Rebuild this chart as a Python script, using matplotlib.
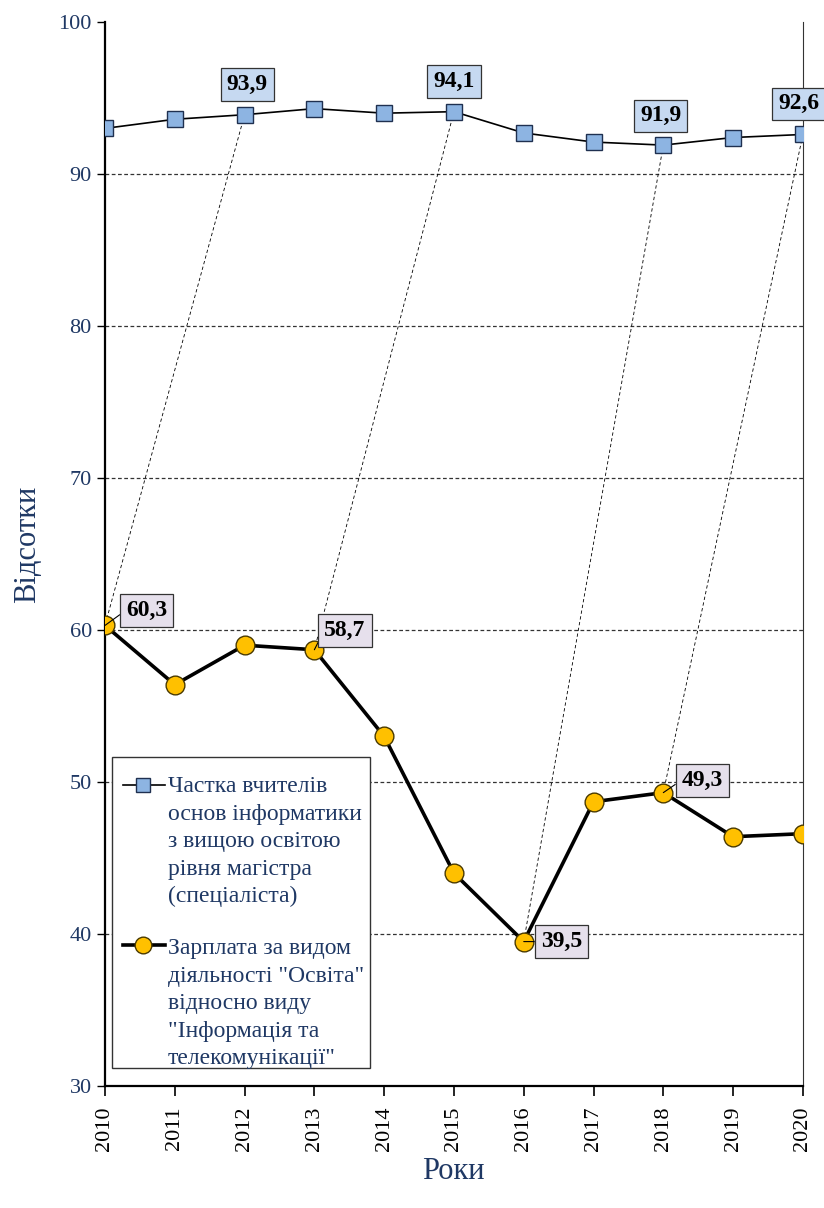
import matplotlib.pyplot as plt
from matplotlib.patches import Rectangle
from matplotlib.lines import Line2D

plt.rcParams['font.family'] = ['Liberation Serif', 'DejaVu Serif']

#%% data
years = list(range(2010, 2021))
teachers = [93.0, 93.6, 93.9, 94.3, 94.0, 94.1, 92.7, 92.1, 91.9, 92.4, 92.6]
salary = [60.3, 56.4, 59.0, 58.7, 53.0, 44.0, 39.5, 48.7, 49.3, 46.4, 46.6]

teach_labelled = [2012, 2015, 2018, 2020]
sal_labelled = [2010, 2013, 2016, 2018]

legend_teach = "Частка вчителів\nоснов інформатики\nз вищою освітою\nрівня магістра\n(спеціаліста)"
legend_sal = "Зарплата за видом\nдіяльності \"Освіта\"\nвідносно виду\n\"Інформація та\nтелекомунікації\""

navy = '#1F3864'

#%% figure
fig = plt.figure(figsize=(8.24, 12.08), dpi=100)
ax = fig.add_axes([0.1274, 0.101, 0.847, 0.8808])

for y in range(40, 100, 10):
    ax.axhline(y, color='#333333', lw=0.9, ls=(0, (3, 2)), zorder=1)

# leader lines from the labelled teacher point to the salary point
for yt, ys in zip(teach_labelled, sal_labelled):
    ax.plot([yt, ys], [teachers[years.index(yt)], salary[years.index(ys)]],
            color='k', lw=0.6, ls=(0, (4, 3)), zorder=2)

ax.plot(years, teachers, color='k', lw=1.2, marker='s', ms=12,
        mfc='#8DB4E2', mec='#1F3050', mew=1.0, zorder=3)
ax.plot(years, salary, color='k', lw=2.6, marker='o', ms=13.5,
        mfc='#FFC000', mec='#4A3A00', mew=1.0, zorder=3)

# value labels
t_off = {2012: (2, 22), 2015: (0, 22), 2018: (-2, 21), 2020: (-3, 22)}
for yr in teach_labelled:
    v = teachers[years.index(yr)]
    ax.annotate(f"{v:.1f}".replace('.', ','), (yr, v), xytext=t_off[yr],
                textcoords='offset points', ha='center', va='center',
                fontsize=17, fontweight='bold', annotation_clip=False,
                bbox=dict(boxstyle='square,pad=0.25', fc='#C6D9F1', ec='#333333', lw=0.9),
                zorder=5)

s_off = {2010: (30, 11), 2013: (22, 14), 2016: (27, 0), 2018: (28, 9)}
for yr in sal_labelled:
    v = salary[years.index(yr)]
    ax.annotate(f"{v:.1f}".replace('.', ','), (yr, v), xytext=s_off[yr],
                textcoords='offset points', ha='center', va='center',
                fontsize=17, fontweight='bold', annotation_clip=False,
                bbox=dict(boxstyle='square,pad=0.25', fc='#E6E0EC', ec='#333333', lw=0.9),
                arrowprops=dict(arrowstyle='-', color='k', lw=0.8,
                                shrinkA=0, shrinkB=0, relpos=(0, 0.5)),
                zorder=5)

#%% axes
ax.set_xlim(2010, 2020)
ax.set_ylim(30, 100)
ax.set_xticks(years)
ax.set_xticklabels([str(y) for y in years], rotation=90, color=navy, fontsize=16)
ax.set_yticks(range(30, 101, 10))
ax.tick_params(axis='y', colors='k', labelcolor=navy, labelsize=16, length=6, width=1)
ax.tick_params(axis='x', colors='k', length=7, width=1.2, pad=8)
ax.spines['top'].set_visible(False)
ax.spines['right'].set_color('#333333')
ax.spines['right'].set_linewidth(0.8)
ax.spines['left'].set_linewidth(1.6)
ax.spines['bottom'].set_linewidth(1.6)

fig.text(0.034, 0.549, "Відсотки", rotation=90, ha='center', va='center',
         fontsize=22, color=navy)
fig.text(0.55, 0.030, "Роки", ha='center', va='center', fontsize=22, color=navy)

#%% legend drawn by hand so the handle sits on the first line
ax.add_patch(Rectangle((0.010, 0.017), 0.370, 0.292, transform=ax.transAxes,
                       fc='white', ec='#333333', lw=1.0, zorder=6))
ax.add_line(Line2D([0.026, 0.086], [0.2829, 0.2829], transform=ax.transAxes,
                   color='k', lw=1.2, zorder=7))
ax.add_line(Line2D([0.054], [0.2829], transform=ax.transAxes, marker='s', ms=10,
                   mfc='#8DB4E2', mec='#1F3050', zorder=8))
ax.text(0.090, 0.2914, legend_teach, transform=ax.transAxes, ha='left', va='top',
        fontsize=17, color=navy, linespacing=1.41, zorder=8)
ax.add_line(Line2D([0.026, 0.086], [0.1325, 0.1325], transform=ax.transAxes,
                   color='k', lw=2.6, zorder=7))
ax.add_line(Line2D([0.054], [0.1325], transform=ax.transAxes, marker='o', ms=12,
                   mfc='#FFC000', mec='#4A3A00', zorder=8))
ax.text(0.090, 0.1391, legend_sal, transform=ax.transAxes, ha='left', va='top',
        fontsize=17, color=navy, linespacing=1.41, zorder=8)

fig.savefig("out.png", dpi=100)
